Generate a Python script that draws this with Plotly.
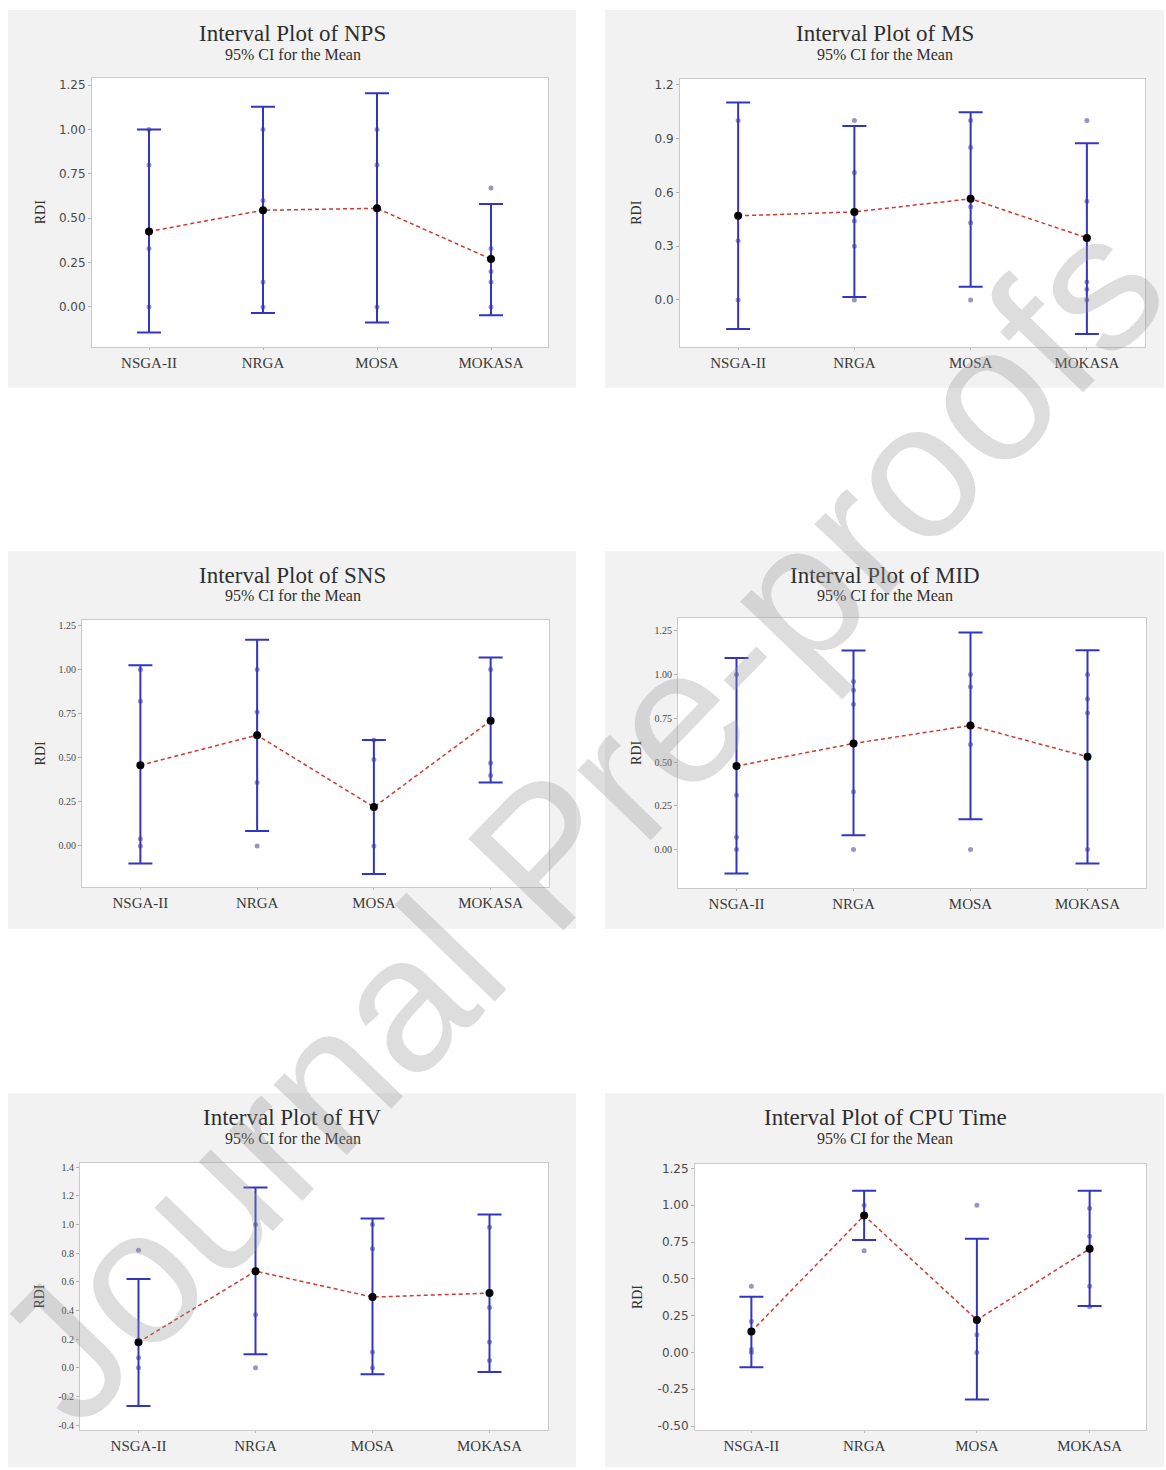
import plotly.graph_objects as go

W, H = 1166, 1470

ALGORITHMS = ["NSGA-II", "NRGA", "MOSA", "MOKASA"]

# ---- Number of Pareto solutions (NPS)
NPS_MEAN = [0.425, 0.545, 0.556, 0.270]
NPS_LOW = [-0.144, -0.035, -0.088, -0.047]
NPS_HIGH = [1.000, 1.129, 1.205, 0.580]
NPS_OBS = [[0, 0.33, 0.80, 1.0], [0, 0.14, 0.60, 1.0], [0, 0.80, 1.0], [0, 0.14, 0.20, 0.33, 0.67]]
NPS_TICKS = [0.0, 0.25, 0.50, 0.75, 1.00, 1.25]

# ---- Maximum spread (MS)
MS_MEAN = [0.469, 0.491, 0.564, 0.346]
MS_LOW = [-0.162, 0.017, 0.074, -0.190]
MS_HIGH = [1.100, 0.969, 1.046, 0.874]
MS_OBS = [[0, 0.33, 1.0], [0, 0.30, 0.44, 0.71, 1.0], [0, 0.43, 0.52, 0.85, 1.0], [0, 0.06, 0.10, 0.55, 1.0]]
MS_TICKS = [0.0, 0.3, 0.6, 0.9, 1.2]

# ---- Spread of non-dominated solutions (SNS)
SNS_MEAN = [0.458, 0.628, 0.220, 0.710]
SNS_LOW = [-0.100, 0.085, -0.160, 0.360]
SNS_HIGH = [1.024, 1.169, 0.600, 1.069]
SNS_OBS = [[0, 0.04, 0.82, 1.0], [0, 0.36, 0.76, 1.0], [0, 0.49, 0.60], [0.40, 0.47, 1.0]]
SNS_TICKS = [0.0, 0.25, 0.50, 0.75, 1.00, 1.25]

# ---- Mean ideal distance (MID)
MID_MEAN = [0.477, 0.606, 0.709, 0.530]
MID_LOW = [-0.137, 0.082, 0.173, -0.080]
MID_HIGH = [1.095, 1.137, 1.241, 1.139]
MID_OBS = [[0, 0.07, 0.31, 1.0], [0, 0.33, 0.83, 0.91, 0.96], [0, 0.60, 0.93, 1.0], [0, 0.78, 0.86, 1.0]]
MID_TICKS = [0.0, 0.25, 0.50, 0.75, 1.00, 1.25]

# ---- Hypervolume (HV)
HV_MEAN = [0.178, 0.674, 0.493, 0.521]
HV_LOW = [-0.266, 0.095, -0.046, -0.030]
HV_HIGH = [0.620, 1.257, 1.042, 1.069]
HV_OBS = [[0, 0.07, 0.82], [0, 0.37, 1.0], [0, 0.11, 0.83, 1.0], [0.05, 0.18, 0.42, 0.98]]
HV_TICKS = [-0.4, -0.2, 0.0, 0.2, 0.4, 0.6, 0.8, 1.0, 1.2, 1.4]

# ---- CPU time
CPU_MEAN = [0.142, 0.930, 0.221, 0.704]
CPU_LOW = [-0.100, 0.763, -0.320, 0.316]
CPU_HIGH = [0.379, 1.099, 0.772, 1.099]
CPU_OBS = [[0, 0.02, 0.21, 0.45], [0.69, 1.0], [0, 0.12, 1.0], [0.31, 0.45, 0.79, 0.98]]
CPU_TICKS = [-0.50, -0.25, 0.0, 0.25, 0.50, 0.75, 1.00, 1.25]

TITLES = ["NPS", "MS", "SNS", "MID", "HV", "CPU Time"]

SERIF = "Liberation Serif"
SANS = "DejaVu Sans"

# layout of each panel in pixels: background box, plot box, y range, tick style
PANELS = [
    dict(name=TITLES[0], mean=NPS_MEAN, low=NPS_LOW, high=NPS_HIGH, obs=NPS_OBS, ticks=NPS_TICKS, fmt="{:.2f}",
         bg=(8, 8, 576, 387), box=(92, 76, 548, 346), yr=(-0.225, 1.292), tfont=(SANS, 12)),
    dict(name=TITLES[1], mean=MS_MEAN, low=MS_LOW, high=MS_HIGH, obs=MS_OBS, ticks=MS_TICKS, fmt="{:.1f}",
         bg=(605, 8, 1164, 387), box=(680, 77, 1145, 346), yr=(-0.261, 1.233), tfont=(SANS, 12)),
    dict(name=TITLES[2], mean=SNS_MEAN, low=SNS_LOW, high=SNS_HIGH, obs=SNS_OBS, ticks=SNS_TICKS, fmt="{:.2f}",
         bg=(8, 551, 576, 930), box=(82, 620, 549, 888), yr=(-0.233, 1.282), tfont=(SERIF, 10)),
    dict(name=TITLES[3], mean=MID_MEAN, low=MID_LOW, high=MID_HIGH, obs=MID_OBS, ticks=MID_TICKS, fmt="{:.2f}",
         bg=(605, 551, 1164, 930), box=(678, 618, 1146, 889), yr=(-0.22, 1.324), tfont=(SERIF, 10)),
    dict(name=TITLES[4], mean=HV_MEAN, low=HV_LOW, high=HV_HIGH, obs=HV_OBS, ticks=HV_TICKS, fmt="{:.1f}",
         bg=(8, 1095, 576, 1470), box=(80, 1165, 548, 1433), yr=(-0.435, 1.428), tfont=(SERIF, 10)),
    dict(name=TITLES[5], mean=CPU_MEAN, low=CPU_LOW, high=CPU_HIGH, obs=CPU_OBS, ticks=CPU_TICKS, fmt="{:.2f}",
         bg=(605, 1095, 1164, 1470), box=(695, 1166, 1146, 1433), yr=(-0.528, 1.28), tfont=(SANS, 12)),
]

BAR_BLUE = "#3434c4"
LINE_RED = "#cc3b33"


def px_x(v):
    return v / W


def px_y(v):
    return 1 - v / H


fig = go.Figure()
bg_shapes = []
plot_shapes = []
annotations = []
layout_axes = {}

for i, p in enumerate(PANELS, start=1):
    sfx = "" if i == 1 else str(i)
    xref, yref = "x" + sfx, "y" + sfx

    # individual observations
    ox, oy = [], []
    for cat, vals in zip(ALGORITHMS, p["obs"]):
        ox += [cat] * len(vals)
        oy += vals
    fig.add_trace(go.Scatter(
        x=ox, y=oy, mode="markers", xaxis=xref, yaxis=yref, showlegend=False,
        marker=dict(size=5, color="rgba(80,80,150,0.6)", line=dict(width=0)),
        hoverinfo="skip",
    ))

    # confidence intervals with the mean connect line
    fig.add_trace(go.Scatter(
        x=ALGORITHMS, y=p["mean"], mode="lines+markers", xaxis=xref, yaxis=yref, showlegend=False,
        line=dict(color=LINE_RED, width=1.5, dash="4px,3px"),
        marker=dict(size=8, color="black"),
        error_y=dict(
            type="data", symmetric=False,
            array=[h - m for h, m in zip(p["high"], p["mean"])],
            arrayminus=[m - l for m, l in zip(p["mean"], p["low"])],
            color=BAR_BLUE, thickness=2, width=12,
        ),
    ))

    bx0, by0, bx1, by1 = p["box"]
    layout_axes["xaxis" + sfx] = dict(
        domain=[px_x(bx0), px_x(bx1)], anchor=yref, type="category",
        categoryorder="array", categoryarray=ALGORITHMS, range=[-0.5, 3.5],
        showline=True, mirror=True, linecolor="#cacaca", linewidth=1,
        ticks="outside", ticklen=2, tickcolor="#b8b8b8", showgrid=False, zeroline=False,
        tickfont=dict(family=SERIF, size=15, color="#3a3a3a"),
    )
    layout_axes["yaxis" + sfx] = dict(
        domain=[px_y(by1), px_y(by0)], anchor=xref, range=list(p["yr"]),
        tickmode="array", tickvals=p["ticks"], ticktext=[p["fmt"].format(t) for t in p["ticks"]],
        showline=True, mirror=True, linecolor="#cacaca", linewidth=1,
        ticks="outside", ticklen=3, tickcolor="#b0b0b0", showgrid=False, zeroline=False,
        tickfont=dict(family=p["tfont"][0], size=p["tfont"][1], color="#4a4a4a"),
    )

    # grey panel card and white plotting area
    gx0, gy0, gx1, gy1 = p["bg"]
    bg_shapes.append(dict(type="rect", xref="paper", yref="paper", layer="below",
                          x0=px_x(gx0), x1=px_x(gx1), y0=px_y(gy1), y1=px_y(gy0),
                          fillcolor="#f2f2f2", line=dict(width=0)))
    plot_shapes.append(dict(type="rect", xref="paper", yref="paper", layer="below",
                            x0=px_x(bx0), x1=px_x(bx1), y0=px_y(by1), y1=px_y(by0),
                            fillcolor="white", line=dict(width=0)))

    cx = (gx0 + gx1) / 2 + 0.5
    annotations.append(dict(text="Interval Plot of " + p["name"], xref="paper", yref="paper",
                            x=px_x(cx), y=px_y(gy0 + 24), xanchor="center", yanchor="middle",
                            showarrow=False, font=dict(family=SERIF, size=23, color="#2f2f2f")))
    annotations.append(dict(text="95% CI for the Mean", xref="paper", yref="paper",
                            x=px_x(cx), y=px_y(gy0 + 45), xanchor="center", yanchor="middle",
                            showarrow=False, font=dict(family=SERIF, size=16, color="#2f2f2f")))
    annotations.append(dict(text="RDI", xref="paper", yref="paper", textangle=-90,
                            x=px_x(gx0 + 32), y=px_y((by0 + by1) / 2), xanchor="center", yanchor="middle",
                            showarrow=False, font=dict(family=SERIF, size=14, color="#333333")))

# diagonal watermark across the page
annotations.append(dict(text="Journal Pre-proofs", xref="paper", yref="paper", textangle=-46,
                        x=px_x(578), y=px_y(820), xanchor="center", yanchor="middle", showarrow=False,
                        font=dict(family="Liberation Sans", size=192, color="rgba(150,150,150,0.32)")))

fig.update_layout(
    width=W, height=H, margin=dict(l=0, r=0, t=0, b=0),
    paper_bgcolor="white", plot_bgcolor="white",
    shapes=bg_shapes + plot_shapes, annotations=annotations, showlegend=False,
    **layout_axes,
)

fig.write_html("out.html")
